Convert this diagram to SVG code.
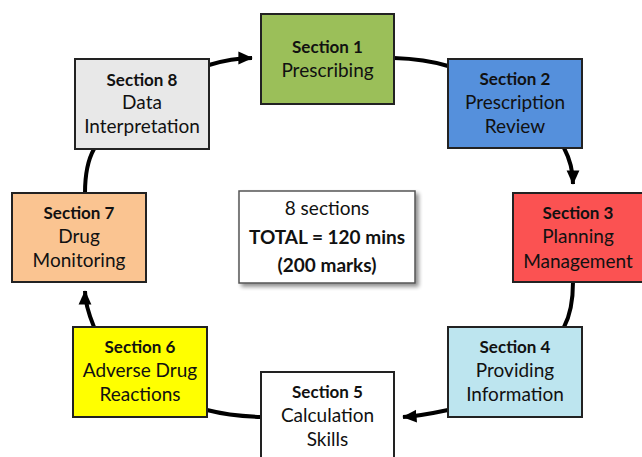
<svg xmlns="http://www.w3.org/2000/svg" width="642" height="457" viewBox="0 0 642 457">
<defs>
<marker id="ah" markerWidth="5" markerHeight="5" refX="3.4" refY="2.5" orient="auto" markerUnits="strokeWidth">
<path d="M0,0.9 L3.6,2.5 L0,4.1 Z" fill="#000"/>
</marker>
<filter id="sh" x="-10%" y="-10%" width="130%" height="130%">
<feGaussianBlur in="SourceAlpha" stdDeviation="2"/>
<feOffset dx="3" dy="3" result="b"/>
<feComponentTransfer><feFuncA type="linear" slope="0.45"/></feComponentTransfer>
<feMerge><feMergeNode/><feMergeNode in="SourceGraphic"/></feMerge>
</filter>
</defs>
<style>
.box{stroke:#222;stroke-width:2}
text{font-family:Lato,"Open Sans",sans-serif;font-size:19px;fill:#111;text-anchor:middle}
.b{font-weight:bold;font-size:17px}
.c{fill:none;stroke:#000;stroke-width:4}
</style>
<rect width="642" height="457" fill="#fff"/>
<g id="connectors">
<path class="c" d="M209,65 Q232,58 252,58" marker-end="url(#ah)"/>
<path class="c" d="M394,58 Q425,59 448,66"/>
<path class="c" d="M564,148 Q573,165 573,184" marker-end="url(#ah)"/>
<path class="c" d="M573,282 Q573,310 564,327"/>
<path class="c" d="M448,410 Q420,416 403,417" marker-end="url(#ah)"/>
<path class="c" d="M261,417 Q230,416 207,410"/>
<path class="c" d="M94,327 Q85,305 85,291" marker-end="url(#ah)"/>
<path class="c" d="M85,193 Q85,165 94,149"/>
</g>
<g id="s1">
<rect class="box" x="261" y="14" width="133" height="90" fill="#9bbf59"/>
<text class="b" x="327.5" y="53">Section 1</text>
<text x="327.5" y="77">Prescribing</text>
</g>
<g id="s2">
<rect class="box" x="448" y="59" width="134" height="89" fill="#5590dc"/>
<text class="b" x="515" y="85">Section 2</text>
<text x="515" y="109">Prescription</text>
<text x="515" y="133">Review</text>
</g>
<g id="s3">
<rect class="box" x="513" y="193" width="134" height="89" fill="#fb5252"/>
<text class="b" x="578" y="219">Section 3</text>
<text x="578" y="243">Planning</text>
<text x="578" y="268">Management</text>
</g>
<g id="s4">
<rect class="box" x="448" y="327" width="134" height="90" fill="#bde5ef"/>
<text class="b" x="515" y="353">Section 4</text>
<text x="515" y="377">Providing</text>
<text x="515" y="401">Information</text>
</g>
<g id="s5">
<rect class="box" x="261" y="372" width="133" height="90" fill="#fff"/>
<text class="b" x="327.5" y="398">Section 5</text>
<text x="327.5" y="422">Calculation</text>
<text x="327.5" y="446">Skills</text>
</g>
<g id="s6">
<rect class="box" x="73" y="327" width="134" height="90" fill="#ffff00"/>
<text class="b" x="140" y="353">Section 6</text>
<text x="140" y="377">Adverse Drug</text>
<text x="140" y="401">Reactions</text>
</g>
<g id="s7">
<rect class="box" x="12" y="193" width="134" height="89" fill="#fac491"/>
<text class="b" x="79" y="219">Section 7</text>
<text x="79" y="243">Drug</text>
<text x="79" y="267">Monitoring</text>
</g>
<g id="s8">
<rect class="box" x="75" y="59" width="134" height="90" fill="#e8e8e8"/>
<text class="b" x="142" y="86">Section 8</text>
<text x="142" y="109">Data</text>
<text x="142" y="133">Interpretation</text>
</g>
<g id="summary">
<rect x="239" y="191" width="176" height="92" fill="#fff" stroke="#555" stroke-width="1.5" filter="url(#sh)"/>
<text x="327" y="215">8 sections</text>
<text x="327" y="244" style="font-weight:bold">TOTAL = 120 mins</text>
<text x="327" y="272" style="font-weight:bold">(200 marks)</text>
</g>
</svg>
